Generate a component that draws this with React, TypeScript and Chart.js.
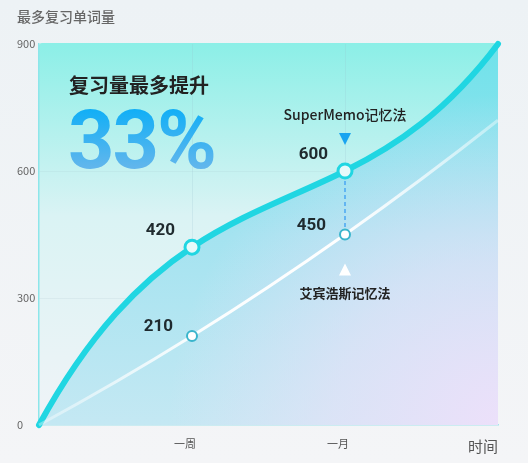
import { useEffect, useRef } from 'react';
import { Chart, registerables } from 'chart.js';

Chart.register(...registerables);

const xValues = [0, 1, 2, 3];
const xTickLabels = ['', '一周', '一月', ''];
const superMemo = [0, 420, 600, 900];
const ebbinghaus = [0, 210, 450, 720];
const yTicks = [0, 300, 600, 900];
const markedPoints = [1, 2];

const CJK = "'Noto Sans CJK SC', 'Noto Sans', sans-serif";
const CYAN = '#20d6e2';

// slope at each knot of the polynomial through all points (barycentric differentiation)
function polySlopes(xs: number[], ys: number[]) {
  const n = xs.length;
  const lam = xs.map((xj, j) => {
    let p = 1;
    for (let m = 0; m < n; m++) if (m !== j) p *= xj - xs[m];
    return 1 / p;
  });
  return xs.map((xi, i) => {
    let s = 0;
    for (let j = 0; j < n; j++) {
      if (j === i) continue;
      const dij = lam[j] / lam[i] / (xi - xs[j]);
      s += dij * (ys[j] - ys[i]);
    }
    return s;
  });
}

const splinePlugin = {
  id: 'smoothCurve',
  beforeDatasetsDraw(chart: any) {
    const sx = chart.scales.x;
    const sy = chart.scales.y;
    chart.data.datasets.forEach((ds: any, di: number) => {
      const meta = chart.getDatasetMeta(di);
      meta.dataset.updateControlPoints(chart.chartArea, 'x');
      const xs = ds.data.map((p: any) => p.x);
      const ys = ds.data.map((p: any) => p.y);
      const m = polySlopes(xs, ys);
      meta.data.forEach((pt: any, i: number) => {
        if (i > 0) {
          const k = (xs[i] - xs[i - 1]) / 3;
          pt.cp1x = sx.getPixelForValue(xs[i] - k);
          pt.cp1y = sy.getPixelForValue(ys[i] - m[i] * k);
        }
        if (i < xs.length - 1) {
          const k = (xs[i + 1] - xs[i]) / 3;
          pt.cp2x = sx.getPixelForValue(xs[i] + k);
          pt.cp2y = sy.getPixelForValue(ys[i] + m[i] * k);
        }
      });
    });
  }
};

let fillPattern: CanvasPattern | null = null;
function areaFill(chart: any) {
  const a = chart.chartArea;
  if (!a) return 'transparent';
  if (fillPattern) return fillPattern;
  const off = document.createElement('canvas');
  off.width = chart.width;
  off.height = chart.height;
  const c = off.getContext('2d')!;
  const v = c.createLinearGradient(0, a.top, 0, a.bottom);
  v.addColorStop(0, '#6ee2ea');
  v.addColorStop(0.5, '#a4e3f0');
  v.addColorStop(1, '#c4e8f3');
  c.fillStyle = v;
  c.fillRect(0, 0, off.width, off.height);
  const r = c.createRadialGradient(a.right, a.bottom, 0, a.right, a.bottom, 330);
  r.addColorStop(0, 'rgba(236,224,250,1)');
  r.addColorStop(0.5, 'rgba(232,225,248,0.65)');
  r.addColorStop(1, 'rgba(232,225,248,0)');
  c.fillStyle = r;
  c.fillRect(0, 0, off.width, off.height);
  fillPattern = chart.ctx.createPattern(off, 'no-repeat');
  return fillPattern;
}

const decorPlugin = {
  id: 'decor',
  beforeDraw(chart: any) {
    const { ctx, chartArea: a } = chart;
    ctx.save();
    // plot backdrop
    const g = ctx.createLinearGradient(0, a.top, 0, a.bottom);
    g.addColorStop(0, '#8cefe7');
    g.addColorStop(0.45, '#daf3f4');
    g.addColorStop(1, '#f0f3f7');
    ctx.fillStyle = g;
    ctx.beginPath();
    ctx.roundRect(a.left, a.top - 1, a.width, a.height + 1, [3, 5, 0, 0]);
    ctx.fill();

    // chart title
    ctx.fillStyle = '#666';
    ctx.font = `500 14px ${CJK}`;
    ctx.textAlign = 'left';
    ctx.textBaseline = 'middle';
    ctx.fillText('最多复习单词量', 17, 17);

    // axis title
    ctx.fillStyle = '#555';
    ctx.font = `15px ${CJK}`;
    ctx.textAlign = 'right';
    ctx.fillText('时间', a.right, 446);
    ctx.restore();
  },
  afterDatasetsDraw(chart: any) {
    const { ctx, chartArea: a, scales } = chart;
    const x = scales.x;
    const y = scales.y;
    ctx.save();

    // dashed link between the two methods at 一月
    const px = x.getPixelForValue(xValues[2]);
    const topY = y.getPixelForValue(superMemo[2]);
    const botY = y.getPixelForValue(ebbinghaus[2]);
    ctx.strokeStyle = '#4aa6f2';
    ctx.lineWidth = 1.5;
    ctx.setLineDash([4, 3]);
    ctx.beginPath();
    ctx.moveTo(px, topY + 10);
    ctx.lineTo(px, botY - 7);
    ctx.stroke();
    ctx.setLineDash([]);

    // value labels
    ctx.fillStyle = '#1f2a2e';
    ctx.font = 'bold 17px Roboto, sans-serif';
    ctx.textAlign = 'right';
    ctx.textBaseline = 'middle';
    markedPoints.forEach((i) => {
      const vx = x.getPixelForValue(xValues[i]);
      ctx.fillText(String(superMemo[i]), vx - 17, y.getPixelForValue(superMemo[i]) - 16);
      ctx.fillText(String(ebbinghaus[i]), vx - 19, y.getPixelForValue(ebbinghaus[i]) - 9);
    });

    // SuperMemo marker
    ctx.fillStyle = '#1aa4f0';
    ctx.beginPath();
    ctx.moveTo(px - 6, topY - 38);
    ctx.lineTo(px + 6, topY - 38);
    ctx.lineTo(px, topY - 26);
    ctx.closePath();
    ctx.fill();
    ctx.fillStyle = '#222';
    ctx.font = `500 14px ${CJK}`;
    ctx.textAlign = 'center';
    ctx.fillText('SuperMemo记忆法', px, topY - 56);

    // Ebbinghaus marker
    ctx.fillStyle = '#ffffff';
    ctx.beginPath();
    ctx.moveTo(px, botY + 29);
    ctx.lineTo(px + 6, botY + 41);
    ctx.lineTo(px - 6, botY + 41);
    ctx.closePath();
    ctx.fill();
    ctx.fillStyle = '#222';
    ctx.font = `bold 13px ${CJK}`;
    ctx.fillText('艾宾浩斯记忆法', px, botY + 59);

    // headline
    ctx.textAlign = 'left';
    ctx.fillStyle = '#222';
    ctx.font = `bold 20px ${CJK}`;
    ctx.fillText('复习量最多提升', a.left + 30, a.top + 41);
    const tg = ctx.createLinearGradient(0, a.top + 66, 0, a.top + 124);
    tg.addColorStop(0, '#12aff6');
    tg.addColorStop(1, '#62b6ec');
    ctx.fillStyle = tg;
    ctx.font = 'bold 81px Roboto, sans-serif';
    ctx.textBaseline = 'alphabetic';
    (ctx as any).letterSpacing = '-2px';
    ctx.fillText('33%', a.left + 29, a.top + 124);
    ctx.restore();
  }
};

export default function App() {
  const canvasRef = useRef<HTMLCanvasElement>(null);
  const chartRef = useRef<Chart | null>(null);

  useEffect(() => {
    if (!canvasRef.current) return;
    Chart.defaults.font.family = CJK;
    fillPattern = null;

    chartRef.current = new Chart(canvasRef.current, {
      type: 'line',
      data: {
        datasets: [
          {
            label: '艾宾浩斯记忆法',
            data: xValues.map((v, i) => ({ x: v, y: ebbinghaus[i] })),
            borderWidth: 3,
            borderColor: (c: any) => {
              const a = c.chart.chartArea;
              if (!a) return '#fff';
              const g = c.chart.ctx.createLinearGradient(a.left, 0, a.right, 0);
              g.addColorStop(0, 'rgba(255,255,255,0.35)');
              g.addColorStop(0.35, 'rgba(255,255,255,0.95)');
              g.addColorStop(0.65, 'rgba(255,255,255,1)');
              g.addColorStop(1, 'rgba(255,255,255,0.4)');
              return g;
            },
            tension: 0.3,
            fill: false,
            pointRadius: (c: any) => (markedPoints.includes(c.dataIndex) ? 5 : 0),
            pointBorderWidth: 2,
            pointBorderColor: '#3ab5cc',
            pointBackgroundColor: '#ffffff',
            clip: 8
          },
          {
            label: 'SuperMemo记忆法',
            data: xValues.map((v, i) => ({ x: v, y: superMemo[i] })),
            borderWidth: 6,
            borderColor: CYAN,
            borderCapStyle: 'round',
            borderJoinStyle: 'round',
            tension: 0.3,
            fill: 'origin',
            backgroundColor: (c: any) => areaFill(c.chart),
            pointRadius: (c: any) => (markedPoints.includes(c.dataIndex) ? 7 : 0),
            pointBorderWidth: 3,
            pointBorderColor: CYAN,
            pointBackgroundColor: '#e6fafa',
            clip: 10
          }
        ]
      } as any,
      options: {
        responsive: true,
        maintainAspectRatio: false,
        animation: false,
        layout: { padding: { top: 44, right: 30, bottom: 0, left: 17 } },
        plugins: {
          legend: { display: false },
          tooltip: { enabled: false },
          title: { display: false }
        },
        scales: {
          x: {
            type: 'linear',
            min: 0,
            max: 3,
            afterFit: (s: any) => {
              s.height = 38;
            },
            border: { color: '#a3e3ec', width: 1.5 },
            grid: {
              drawTicks: false,
              color: (c: any) =>
                c.tick && (c.tick.value === 1 || c.tick.value === 2)
                  ? 'rgba(150,190,205,0.2)'
                  : 'rgba(0,0,0,0)'
            },
            ticks: {
              stepSize: 1,
              autoSkip: false,
              maxRotation: 0,
              padding: 12,
              labelOffset: -7,
              color: '#555',
              font: { size: 11 },
              callback: (v: any) => xTickLabels[xValues.indexOf(Number(v))] ?? ''
            }
          },
          y: {
            min: yTicks[0],
            max: yTicks[yTicks.length - 1],
            afterFit: (s: any) => {
              s.width = 22;
            },
            border: { color: '#8de6ea', width: 1.5 },
            grid: {
              drawTicks: false,
              color: (c: any) =>
                c.tick && c.tick.value > yTicks[0] && c.tick.value < yTicks[yTicks.length - 1]
                  ? 'rgba(160,185,195,0.15)'
                  : 'rgba(0,0,0,0)'
            },
            ticks: {
              stepSize: yTicks[1] - yTicks[0],
              crossAlign: 'far',
              padding: 0,
              color: '#666',
              font: { size: 11 }
            }
          }
        }
      } as any,
      plugins: [splinePlugin, decorPlugin]
    });

    return () => {
      chartRef.current?.destroy();
      chartRef.current = null;
    };
  }, []);

  return (
    <div
      style={{
        position: 'fixed',
        left: 0,
        top: 0,
        width: 528,
        height: 463,
        background: 'linear-gradient(180deg, #edf2f5 0%, #f4f5f7 100%)'
      }}
    >
      <canvas ref={canvasRef} />
    </div>
  );
}
